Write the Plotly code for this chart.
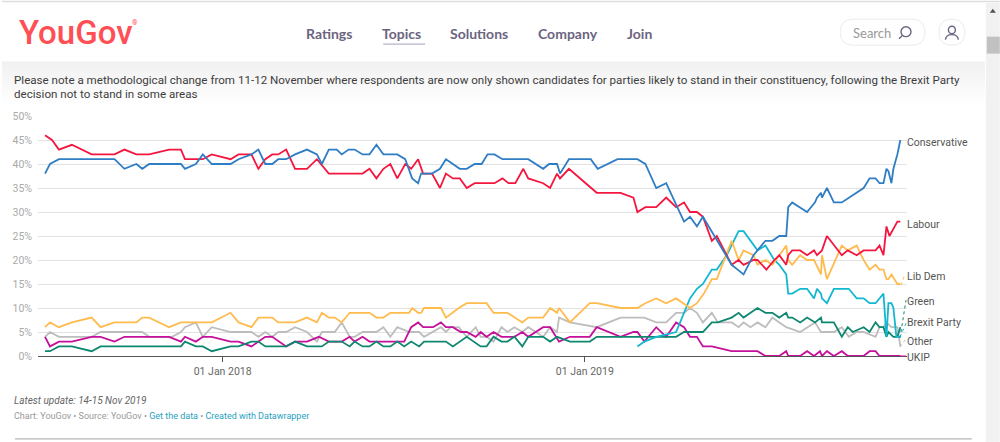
import pandas as pd
import plotly.graph_objects as go

ORIGIN = pd.Timestamp("2018-01-01")

# Poll positions in days since 1 Jan 2018, values in percent
con_days = [-179,-174,-165,-109,-99,-87,-81,-74,-42,-38,-27,-20,-11,8,16,29,36,43,50,56,64,73,85,95,100,107,110,115,120,127,133,141,148,155,162,176,184,191,197,200,211,219,225,239,246,254,261,267,274,282,308,323,329,337,340,349,371,378,398,418,426,437,447,465,471,478,484,513,519,525,535,547,554,561,568,570,574,589,597,599,603,604,609,616,624,639,646,652,658,662,666,669,671,674,676,680,683]
con_vals = [38,40,41,41,39,40,39,40,40,39,40,42,40,40,41,42,43,40,40,41,41,42,43,42,40,43,43,43,42,43,43,42,42,44,42,42,41,37,36,38,38,39,41,39,39,40,40,42,42,41,41,39,40,40,38,41,41,39,41,41,40,35,36,28,29,27,29,19,18,17,21,24,24,25,25,31,32,30,32,33,34,33,35,32,32,34,35,37,37,36,36,39,38.5,36,39,42,45]

lab_days = [-179,-172,-165,-152,-132,-109,-99,-87,-74,-54,-42,-38,-20,-11,8,16,29,36,43,50,56,64,73,85,95,107,110,141,148,155,162,169,176,184,190,197,202,211,219,225,232,239,246,254,274,282,288,295,303,308,323,330,337,340,349,377,401,414,418,426,437,447,457,465,471,478,484,493,498,513,520,525,535,539,548,556,561,568,570,574,582,589,596,599,604,609,624,630,639,646,658,662,666,669,672,680,683]
lab_vals = [46,45,43,44,42,42,43,42,42,43,43,41,41,42,41,42,42,39,41,42,42,43,39,39,41,38,38,38,39,37,39,40,37,40,39,41,38,38,35,38,37,37,35,36,36,37,36,36,39,37,36,35,38,37,39,34,34,33,30,31,31,33,31,32,30,30,29,24,25,19,20,19,20,20,18,20,21,19,21,22,22,21,22,21,22,25,21,22,21,22,22,23,21,27,25,28,28]

ld_days = [-179,-174,-165,-152,-132,-123,-109,-87,-81,-74,-54,-42,-11,8,16,29,36,50,56,73,85,95,100,107,113,120,128,148,155,162,169,188,191,197,200,203,220,225,238,246,266,273,287,302,308,323,330,337,339,350,370,377,401,418,426,437,447,457,471,478,485,493,498,513,520,525,535,539,547,554,561,568,570,574,582,589,596,603,604,609,624,630,639,646,652,658,662,666,669,671,674,680,683]
ld_vals = [6,7,6,7,8,6,7,7,8,8,6,7,7,9,7,6,8,8,7,7,8,7,9,8,8,7,9,9,8,8,9,9,10,9,9,10,10,8,10,11,11,9,9,7,8,8,10,9,10,7,11,11,10,10,11,12,11,12,10,11,13,16,16,24,20,22,21,19,20,19,21,23,20,19,21,20,20,17,21,16,23,22,23,20,18,19,18,18,16,16,17,15,15]

bxp_days = [418,425,437,457,465,471,478,484,493,498,508,513,520,525,535,539,547,556,561,568,570,574,582,589,596,599,603,604,609,616,631,639,646,652,658,666,669,671,674,676,679,683]
bxp_vals = [2,3,4,5,9,12,14,15,18,18,21,23,26,26,23,22,23,20,19,17,13,13,14,14,12,14,13,12,11,14,14,12,12,11,11,13,4,11,11,10,4,4]

grn_days = [-179,-174,-165,-152,-132,-123,-42,-38,-27,-20,-11,8,16,29,36,43,64,73,85,100,107,120,128,133,141,148,155,162,169,176,183,190,198,203,225,232,246,260,266,273,281,287,294,302,308,323,330,337,350,370,377,401,457,465,484,493,499,513,520,525,539,547,554,561,568,570,574,582,589,597,603,604,616,624,630,635,646,652,658,662,666,669,671,676,680,683]
grn_vals = [1,1,2,2,1,2,2,3,2,2,1,2,2,3,3,2,2,3,2,2,3,3,2,3,2,2,3,2,2,3,2,3,2,3,3,2,4,2,2,4,3,3,4,2,4,4,3,4,3,3,4,4,4,5,5,7,7,8,9,8,10,9,9,8,9,8,8,7,8,7,8,7,7,4,6,5,6,5,7,6,6,4,5,4,4,6]

ukip_days = [-179,-174,-165,-152,-132,-123,-109,-99,-54,-42,-38,-27,-20,-11,8,16,29,43,50,64,73,85,97,107,120,128,133,141,148,183,190,197,202,212,220,225,232,240,246,255,260,266,273,281,294,302,308,323,330,339,350,370,377,401,414,418,425,437,447,457,465,471,478,484,493,513,539,547,561,568,570,582,589,596,602,604,609,616,624,630,646,652,658,662,683]
ukip_vals = [4,2,3,3,4,4,3,4,4,3,4,3,4,4,3,3,2,4,4,2,3,3,4,3,3,4,3,4,3,3,6,7,6,6,7,6,6,5,5,4,5,4,5,4,4,5,4,6,6,3,4,4,6,4,5,5,3,6,4,7,6,4,4,2,2,1,1,0,0,1,0,0,1,0,1,0,1,0,1,0,0,1,1,0,0]

oth_days = [-179,-174,-165,-132,-123,-81,-74,-51,-42,-38,-27,-20,-11,8,29,36,43,50,56,64,73,85,95,100,113,120,128,133,141,155,162,169,176,188,198,203,220,225,230,238,246,255,260,266,273,281,287,294,302,308,323,330,337,339,350,377,401,425,437,447,457,465,471,478,484,493,499,513,520,525,532,539,547,554,561,568,582,597,603,616,624,631,639,646,658,662,666,669,674,680,683]
oth_vals = [4,5,4,4,5,5,4,4,5,6,7,4,6,5,5,4,5,4,5,5,6,5,3,5,5,7,4,4,5,5,6,4,6,5,5,4,6,5,6,6,4,6,4,4,3,6,5,6,5,6,4,6,5,8,7,6,8,8,7,7,9,9,10,9,7,9,7,7,6,7,6,7,6,8,7,6,5,7,5,5,6,4,5,5,4,6,6,7,6,6,2]

series_names = ["Other", "UKIP", "Green", "Brexit Party", "Lib Dem", "Labour", "Conservative"]
series_days = [oth_days, ukip_days, grn_days, bxp_days, ld_days, lab_days, con_days]
series_vals = [oth_vals, ukip_vals, grn_vals, bxp_vals, ld_vals, lab_vals, con_vals]
series_cols = ["#bdbdbd", "#c4109a", "#0e8770", "#12b8d0", "#ffbb4d", "#f5163f", "#2f7dc4"]

y_ticks = [0, 5, 10, 15, 20, 25, 30, 35, 40, 45, 50]
x_ticks = ["2018-01-01", "2019-01-01"]
x_tick_text = ["01 Jan 2018", "01 Jan 2019"]

W, H = 1000, 442
L, R, T, B = 36, 907, 115.5, 356

def X(p):
    return (p - L) / (R - L)

def Y(p):
    return (B - p) / (B - T)

fig = go.Figure()
for name, d, v, c in zip(series_names, series_days, series_vals, series_cols):
    n = min(len(d), len(v))
    fig.add_trace(go.Scatter(
        x=[ORIGIN + pd.Timedelta(days=i) for i in d[:n]], y=v[:n], name=name,
        mode="lines", line=dict(color=c, width=1.8), cliponaxis=False,
        hoverinfo="skip", showlegend=False))

shapes = []
def rect(x0, y0, x1, y1, fill, line=None, lw=0, layer="below"):
    shapes.append(dict(type="rect", xref="paper", yref="paper", x0=X(x0), x1=X(x1),
                       y0=Y(y0), y1=Y(y1), fillcolor=fill, layer=layer,
                       line=dict(color=line or "rgba(0,0,0,0)", width=lw)))

def seg(x0, y0, x1, y1, col, lw=1, dash="solid", layer="above"):
    shapes.append(dict(type="line", xref="paper", yref="paper", x0=X(x0), x1=X(x1),
                       y0=Y(y0), y1=Y(y1), layer=layer,
                       line=dict(color=col, width=lw, dash=dash)))

# header shadow
shade = ["#f1f1f1", "#f2f2f2", "#f3f3f3", "#f4f4f4", "#f5f5f5", "#f6f6f6", "#f7f7f7",
         "#f8f8f8", "#f9f9f9", "#fafafa", "#fbfbfb", "#fcfcfc", "#fdfdfd", "#fefefe"]
for i, col in enumerate(shade):
    rect(0, 61 + i * 3, 985, 61 + (i + 1) * 3 + 0.5, col)
rect(0, 0, 1000, 1.5, "#dddddd")
# scrollbar
rect(986, 2, 1000, 442, "#f1f1f1")
rect(987, 36, 1000, 53, "#c1c1c1")
shapes.append(dict(type="path", xref="paper", yref="paper", layer="above",
                   path=f"M {X(990)} {Y(12)} L {X(996)} {Y(12)} L {X(993)} {Y(8)} Z",
                   fillcolor="#505050", line=dict(width=0)))
# nav underline
seg(382, 43.5, 424, 43.5, "#b9b3c8", 1.2)
# search pill
shapes.append(dict(type="path", xref="paper", yref="paper", layer="above",
    path=(f"M {X(853)} {Y(18.5)} L {X(912)} {Y(18.5)} Q {X(925)} {Y(18.5)} {X(925)} {Y(31.5)} "
          f"Q {X(925)} {Y(44.5)} {X(912)} {Y(44.5)} L {X(853)} {Y(44.5)} "
          f"Q {X(840)} {Y(44.5)} {X(840)} {Y(31.5)} Q {X(840)} {Y(18.5)} {X(853)} {Y(18.5)} Z"),
    line=dict(color="#ececec", width=1), fillcolor="white"))
# magnifier
shapes.append(dict(type="circle", xref="paper", yref="paper", layer="above",
                   x0=X(901), x1=X(911), y0=Y(36), y1=Y(26), line=dict(color="#6b6480", width=1.4)))
seg(902, 35, 899, 38, "#6b6480", 1.4)
# user pill
shapes.append(dict(type="path", xref="paper", yref="paper", layer="above",
    path=(f"M {X(952)} {Y(18.5)} Q {X(965)} {Y(18.5)} {X(965)} {Y(31.5)} "
          f"Q {X(965)} {Y(44.5)} {X(952)} {Y(44.5)} Q {X(939)} {Y(44.5)} {X(939)} {Y(31.5)} "
          f"Q {X(939)} {Y(18.5)} {X(952)} {Y(18.5)} Z"),
    line=dict(color="#ececec", width=1), fillcolor="white"))
shapes.append(dict(type="circle", xref="paper", yref="paper", layer="above",
                   x0=X(948.5), x1=X(955.5), y0=Y(33), y1=Y(25.5), line=dict(color="#6b6480", width=1.4)))
shapes.append(dict(type="path", xref="paper", yref="paper", layer="above",
    path=f"M {X(945.5)} {Y(39)} Q {X(946)} {Y(34)} {X(952)} {Y(34)} Q {X(958)} {Y(34)} {X(958.5)} {Y(39)}",
    line=dict(color="#6b6480", width=1.4)))
# connectors from series ends to their labels
seg(901, 285, 905, 274, "#ffbb4d", 1, "dot")
seg(900, 338, 906, 300, "#0e8770", 1, "dot")
seg(900, 337, 907, 321, "#12b8d0", 1, "dot")
seg(900, 347, 905, 340, "#bdbdbd", 1, "dot")
seg(900, 356, 906, 356, "#c4109a", 1, "solid")
# bottom rule
seg(13, 439, 972, 439, "#b5b5b5", 1.2)

anns = []
PAD = 3  # annotation box padding
def text(x, y, s, size, col, family="Roboto", anchor="left", **kw):
    anns.append(dict(xref="paper", yref="paper", x=X(x - PAD), y=Y(y), text=s, showarrow=False,
                     xanchor=anchor, yanchor="middle", align=anchor,
                     font=dict(size=size, color=col, family=family, **kw)))

text(18, 31.5, "YouGov", 33, "#ff4f55", family="Roboto", weight=500)
text(131, 22, "®", 7, "#ff4f55")
NAV = "#6b6480"
for lbl, xp in [("Ratings", 306), ("Topics", 382), ("Solutions", 450), ("Company", 538), ("Join", 627)]:
    text(xp, 32.5, lbl, 14, NAV, family="Lato", weight="bold")
text(854, 32.5, "Search", 13, "#9a9a9a", family="Lato")
text(13, 79, "Please note a methodological change from 11-12 November where respondents are now only shown candidates for parties likely to stand in their constituency, following the Brexit Party", 11.6, "#3d3d3d")
text(13, 93, "decision not to stand in some areas", 11.6, "#3d3d3d")
for lbl, yp in [("Conservative", 142), ("Labour", 224), ("Lib Dem", 276), ("Green", 301),
                ("Brexit Party", 322), ("Other", 341), ("UKIP", 358)]:
    text(908, yp, lbl, 10.5, "#555555")
text(13, 401, "<i>Latest update: 14-15 Nov 2019</i>", 10, "#666666")
LINK = "#2a9fc0"
text(13, 416.5, f'Chart: YouGov • Source: YouGov • <span style="color:{LINK}">Get the data</span> • '
                f'<span style="color:{LINK}">Created with Datawrapper</span>', 9, "#999999")

fig.update_layout(
    width=W, height=H, autosize=False,
    margin=dict(l=L, r=W - R, t=T, b=H - B),
    paper_bgcolor="white", plot_bgcolor="rgba(0,0,0,0)",
    font=dict(family="Roboto"),
    shapes=shapes, annotations=anns,
    xaxis=dict(type="date",
               range=[ORIGIN + pd.Timedelta(days=-186.1), ORIGIN + pd.Timedelta(days=689.7)],
               tickmode="array", tickvals=x_ticks, ticktext=x_tick_text,
               ticks="outside", ticklen=5, tickcolor="#555555", tickwidth=1,
               tickfont=dict(size=10.5, color="#666666", family="Roboto"),
               showgrid=False, showline=True, linecolor="#555555", linewidth=1, zeroline=False),
    yaxis=dict(range=[0, 50], tickmode="array", tickvals=y_ticks,
               ticktext=[f"{t}%" for t in y_ticks],
               ticks="", showline=False, zeroline=False, showgrid=True,
               gridcolor="#e2e2e2", gridwidth=1, ticklabelstandoff=5,
               tickfont=dict(size=10.5, color="#aaaaaa", family="Roboto")),
)

fig.write_html("out.html", config={"displayModeBar": False},
               post_script="document.body.style.margin='0';document.body.style.overflow='hidden';")
